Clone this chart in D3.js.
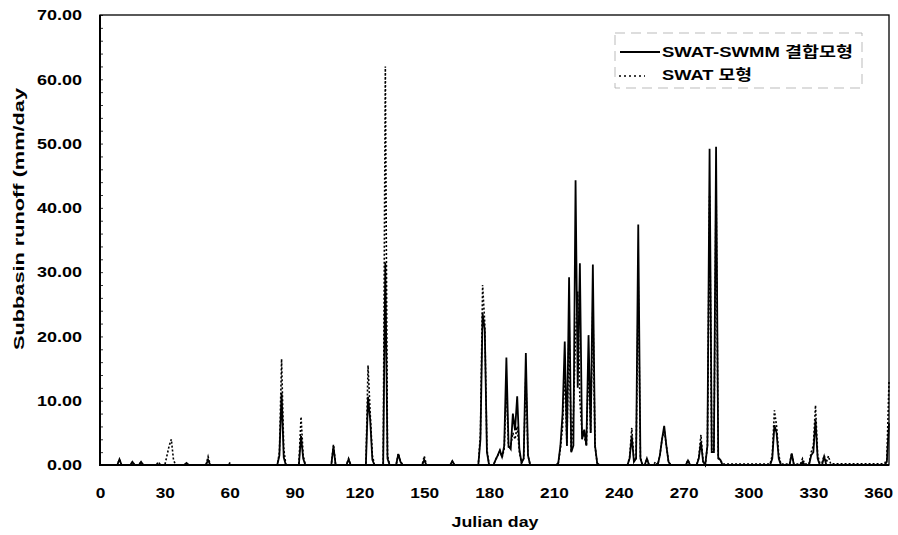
<!DOCTYPE html>
<html>
<head>
<meta charset="utf-8">
<script src="https://cdn.jsdelivr.net/npm/d3@7"></script>
<style>
  body { margin: 0; background: #fff; }
  svg { display: block; font-family: "Liberation Sans", Arial, "Noto Sans CJK KR", sans-serif; }
  .tick text { font-weight: bold; fill: #000; }
</style>
</head>
<body>
<svg id="chart" width="898" height="535"></svg>
<script>
"use strict";
// days of year and runoff (mm/day)
const coupledDays = [0, 8, 9, 10, 14, 15, 16, 18, 19, 20, 39, 40, 41, 49, 50, 51,
  82, 83, 84, 85, 86, 92, 93, 94, 95, 107, 108, 109, 114, 115, 116,
  123, 124, 125, 126, 127, 131, 132, 133, 134, 137, 138, 139, 140, 149, 150, 151, 162, 163, 164,
  175, 176, 177, 178, 179, 180,
  182, 183, 184, 185, 186, 187, 188, 189, 190, 191, 192, 193, 194, 195, 196, 197, 198, 199,
  211, 212, 213, 214, 215, 216, 217, 218, 219, 220, 221, 222, 223, 224, 225, 226, 227, 228, 229, 230, 231,
  244, 245, 246, 247, 248, 249, 250, 251, 252, 253, 254,
  258, 259, 260, 261, 262, 263, 264, 271, 272, 273,
  276, 277, 278, 279, 280, 281, 282, 283, 284, 285, 286, 287, 288,
  310, 311, 312, 313, 314, 315, 319, 320, 321, 324, 325, 326,
  328, 329, 330, 331, 332, 333, 334, 335, 336, 363, 364, 365];
const coupledRunoff = [0, 0, 0.9, 0, 0, 0.5, 0, 0, 0.5, 0, 0, 0.3, 0, 0, 0.8, 0,
  0, 1.5, 11.2, 1.2, 0, 0, 4.5, 1, 0, 0, 2.9, 0, 0, 0.9, 0,
  0, 10.6, 7, 0.8, 0, 0, 31.5, 1, 0, 0, 1.7, 0.5, 0, 0, 0.8, 0, 0, 0.6, 0,
  0, 4, 23.6, 21, 2, 0,
  0, 0.8, 1.5, 2.3, 1.2, 3, 16.7, 3, 2.5, 8, 5.4, 10.7, 2.5, 0.3, 1, 17.4, 1.5, 0,
  0, 0.3, 3, 8, 19.2, 3, 29.2, 2, 3, 44.3, 12, 31.4, 4, 5.5, 3, 20.2, 5, 31.2, 3, 0.3, 0,
  0, 1, 4.5, 0.5, 1, 37.4, 1, 0, 0, 1, 0,
  0, 1.5, 4, 6.1, 3, 0.5, 0, 0, 0.7, 0,
  0, 1, 3.6, 0.5, 0, 3, 49.2, 2, 2, 49.5, 1, 0.8, 0,
  0, 1, 6.2, 5, 1, 0, 0, 1.8, 0, 0, 0.5, 0,
  0, 1.5, 2, 7, 1, 0, 0, 1.3, 0, 0, 0.5, 6.5];

const swatDays = [0, 8, 9, 10, 14, 15, 16, 18, 19, 20, 26, 27, 28, 30, 31, 32, 33, 34, 35,
  39, 40, 41, 49, 50, 51, 59, 60, 61,
  82, 83, 84, 85, 86, 92, 93, 94, 95, 107, 108, 109, 114, 115, 116,
  123, 124, 125, 126, 127, 131, 132, 133, 134, 137, 138, 139, 140, 149, 150, 151, 162, 163, 164,
  175, 176, 177, 178, 179, 180,
  182, 183, 184, 185, 186, 187, 188, 189, 190, 191, 192, 193, 194, 195, 196, 197, 198, 199,
  211, 212, 213, 214, 215, 216, 217, 218, 219, 220, 221, 222, 223, 224, 225, 226, 227, 228, 229, 230, 231,
  244, 245, 246, 247, 248, 249, 250, 251, 252, 253, 254,
  256, 257, 258, 259, 260, 261, 262, 263, 264, 271, 272, 273,
  276, 277, 278, 279, 280, 281, 282, 283, 284, 285, 286, 287, 288,
  310, 311, 312, 313, 314, 315, 319, 320, 321, 324, 325, 326,
  328, 329, 330, 331, 332, 333, 334, 335, 336, 337, 338, 362, 363, 364, 365];
const swatRunoff = [0, 0, 0.9, 0, 0, 0.5, 0, 0, 0.5, 0, 0, 0.5, 0, 0, 1.5, 3, 4, 0.8, 0,
  0, 0.3, 0, 0, 1.3, 0, 0, 0.3, 0,
  0, 2, 16.5, 2.5, 0, 0, 7.5, 1.5, 0, 0, 3.2, 0, 0, 1, 0,
  0, 15.5, 8, 1.5, 0, 0, 62, 1.5, 0, 0, 1.8, 0.6, 0, 0, 1.4, 0, 0, 0.6, 0,
  0, 5, 28, 22, 2.5, 0,
  0, 0.8, 1.5, 2.2, 1.2, 2.5, 12, 2.5, 3, 5, 4, 6, 2, 0.3, 1, 14, 1.5, 0,
  0, 0.3, 2.5, 6, 15, 3, 22, 2, 8, 20, 27, 10, 5, 4.5, 3, 16, 5, 25, 3, 0.3, 0,
  0, 1.2, 5.8, 0.8, 1, 28, 1.2, 0, 0, 1, 0,
  0, 0.5, 0, 1.5, 4, 5.5, 3, 0.5, 0, 0, 0.8, 0,
  0, 1.2, 4.7, 0.6, 0, 3, 42, 2, 2, 44, 1.2, 0.8, 0.15,
  0.15, 1.5, 8.5, 6, 1.5, 0.15, 0.15, 1.8, 0.15, 0.15, 1, 0.15,
  0.15, 2, 3, 9.3, 1.5, 0.3, 0.3, 1.5, 0.4, 1.4, 0.2, 0.2, 0.3, 0.8, 13];

const xTicks = [0, 30, 60, 90, 120, 150, 180, 210, 240, 270, 300, 330, 360];
const yTicks = [0, 10, 20, 30, 40, 50, 60, 70];
const legendLabels = ["SWAT-SWMM 결합모형", "SWAT 모형"];

const svg = d3.select("#chart");
const plotLeft = 100, plotRight = 889, plotTop = 15, plotBottom = 465;

const x = d3.scaleLinear().domain([0, 365]).range([plotLeft, plotRight]);
const y = d3.scaleLinear().domain([0, 70]).range([plotBottom, plotTop]);

// stretch tick text a little, the scan uses a wide bold face
function widen(sel, perChar) {
  sel.each(function () {
    const t = this.textContent;
    const w = t.replace(".", "").length * perChar + (t.includes(".") ? 5 : 0);
    d3.select(this).attr("textLength", w).attr("lengthAdjust", "spacingAndGlyphs");
  });
}

// y axis labels
const yAxis = svg.append("g")
  .attr("transform", `translate(${plotLeft},0)`)
  .call(d3.axisLeft(y).tickValues(yTicks).tickFormat(d3.format(".2f")).tickSize(0).tickPadding(18));
yAxis.select(".domain").remove();
yAxis.selectAll("text").attr("font-size", 15).call(widen, 10);

// small inward ticks every 2 mm
const yMinor = svg.append("g")
  .attr("transform", `translate(${plotLeft},0)`)
  .call(d3.axisRight(y).tickValues(d3.range(0, 71, 2)).tickFormat("").tickSize(3));
yMinor.select(".domain").remove();
yMinor.selectAll("line").attr("stroke", "#000").attr("stroke-width", 0.8);

// x axis labels
const xAxis = svg.append("g")
  .attr("transform", `translate(0,${plotBottom})`)
  .call(d3.axisBottom(x).tickValues(xTicks).tickSize(0).tickPadding(22));
xAxis.select(".domain").remove();
xAxis.selectAll("text").attr("font-size", 15).call(widen, 9.6);

// frame
svg.append("rect")
  .attr("x", plotLeft).attr("y", plotTop)
  .attr("width", plotRight - plotLeft).attr("height", plotBottom - plotTop)
  .attr("fill", "none").attr("stroke", "#000").attr("stroke-width", 1.3);
svg.append("line")
  .attr("x1", plotLeft).attr("x2", plotLeft).attr("y1", plotTop).attr("y2", plotBottom + 1)
  .attr("stroke", "#000").attr("stroke-width", 2);
svg.append("line")
  .attr("x1", plotLeft - 1).attr("x2", plotRight).attr("y1", plotBottom).attr("y2", plotBottom)
  .attr("stroke", "#000").attr("stroke-width", 2);

const line = d3.line().x(d => x(d[0])).y(d => y(d[1]));
const swat = swatDays.map((d, i) => [d, swatRunoff[i]]);
const coupled = coupledDays.map((d, i) => [d, coupledRunoff[i]]);

svg.append("path")
  .datum(swat)
  .attr("d", line)
  .attr("fill", "none")
  .attr("stroke", "#000")
  .attr("stroke-width", 1.6)
  .attr("stroke-dasharray", "2,2");

svg.append("path")
  .datum(coupled)
  .attr("d", line)
  .attr("fill", "none")
  .attr("stroke", "#000")
  .attr("stroke-width", 1.8)
  .attr("stroke-linejoin", "miter");

// axis titles
svg.append("text")
  .attr("x", 495).attr("y", 527)
  .attr("text-anchor", "middle")
  .attr("font-size", 15).attr("font-weight", "bold")
  .attr("textLength", 87).attr("lengthAdjust", "spacingAndGlyphs")
  .text("Julian day");

svg.append("text")
  .attr("transform", "translate(24,219) rotate(-90)")
  .attr("text-anchor", "middle")
  .attr("font-size", 15).attr("font-weight", "bold")
  .attr("textLength", 262).attr("lengthAdjust", "spacingAndGlyphs")
  .text("Subbasin runoff (mm/day");

// legend
const legend = svg.append("g");
legend.append("rect")
  .attr("x", 615).attr("y", 33).attr("width", 247).attr("height", 55)
  .attr("fill", "#fff").attr("stroke", "#aaa").attr("stroke-width", 0.8)
  .attr("stroke-dasharray", "10,6");
legend.append("line")
  .attr("x1", 620).attr("x2", 660).attr("y1", 52).attr("y2", 52)
  .attr("stroke", "#000").attr("stroke-width", 1.8);
legend.append("line")
  .attr("x1", 619).attr("x2", 645).attr("y1", 76).attr("y2", 76)
  .attr("stroke", "#000").attr("stroke-width", 1.6).attr("stroke-dasharray", "2,3");
legend.selectAll("text.lab")
  .data(legendLabels)
  .join("text")
  .attr("class", "lab")
  .attr("x", 662)
  .attr("y", (d, i) => 57 + i * 23)
  .attr("font-size", 14.5).attr("font-weight", "bold")
  .attr("textLength", (d, i) => i === 0 ? 191 : 90)
  .attr("lengthAdjust", "spacingAndGlyphs")
  .text(d => d);
</script>
</body>
</html>
